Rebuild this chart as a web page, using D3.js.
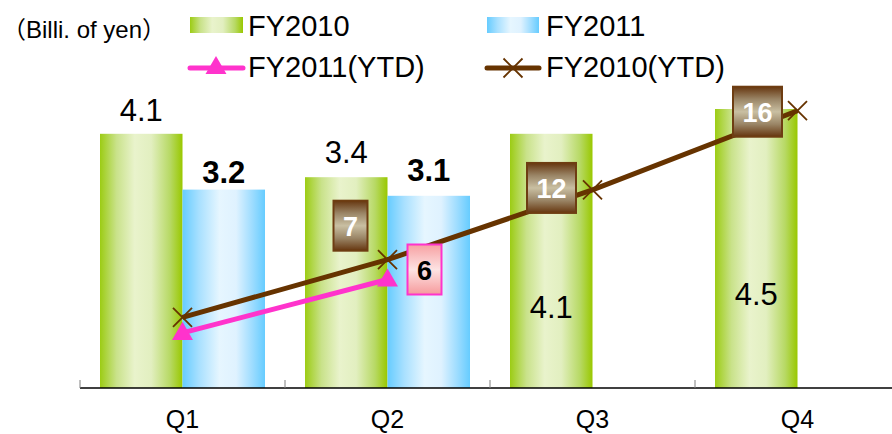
<!DOCTYPE html>
<html>
<head>
<meta charset="utf-8">
<script src="https://cdn.jsdelivr.net/npm/d3@7/dist/d3.min.js"></script>
<style>
  html, body { margin: 0; padding: 0; background: #fff; }
  svg { display: block; font-family: "Liberation Sans", Arial, "Noto Sans CJK JP", sans-serif; }
</style>
</head>
<body>
<svg id="chart" width="892" height="434"></svg>
<script>
// Quarterly amounts (billions of yen) and year-to-date totals
const categories = ["Q1", "Q2", "Q3", "Q4"];
const fy2010 = [4.1, 3.4, 4.1, 4.5];
const fy2011 = [3.2, 3.1, null, null];
const fy2010Ytd = [4.1, 7.45, 11.5, 16.1];
const fy2011Ytd = [3.2, 6.3, null, null];
const seriesNames = ["FY2010", "FY2011", "FY2011(YTD)", "FY2010(YTD)"];

// label placement (vertical offset of FY2010 value labels, box offsets of YTD labels)
const fy2010LabelDy = [-13, -14, 184, 196];
const fy2011LabelDy = [-7, -15, 0, 0];
const fy2010BoxOffset = [null, [-37, -34], [-41, -2], [-40, 1]];
const fy2011BoxOffset = [null, [37, -10], null, null];

const svg = d3.select("#chart");
const defs = svg.append("defs");

function hGrad(id, stops) {
  const g = defs.append("linearGradient").attr("id", id)
    .attr("x1", "0%").attr("x2", "100%").attr("y1", "0%").attr("y2", "0%");
  stops.forEach(([o, c]) => g.append("stop").attr("offset", o).attr("stop-color", c));
}
function vGrad(id, stops) {
  const g = defs.append("linearGradient").attr("id", id)
    .attr("x1", "0%").attr("x2", "0%").attr("y1", "0%").attr("y2", "100%");
  stops.forEach(([o, c]) => g.append("stop").attr("offset", o).attr("stop-color", c));
}
hGrad("gGreen", [["0%", "#9ccc14"], ["20%", "#c9e28a"], ["42%", "#e9f3cc"], ["62%", "#e2efc0"], ["85%", "#b7d964"], ["100%", "#99c800"]]);
hGrad("gBlue", [["0%", "#66ccff"], ["20%", "#a8e0ff"], ["45%", "#e6f6ff"], ["65%", "#dff2ff"], ["85%", "#9cdcff"], ["100%", "#66ccff"]]);
vGrad("gBrown", [["0%", "#66360f"], ["25%", "#9a8566"], ["50%", "#c9bfa2"], ["75%", "#9a8566"], ["100%", "#66360f"]]);
vGrad("gPink", [["0%", "#f7a0a2"], ["50%", "#fde3e3"], ["100%", "#f69a9c"]]);

const baseY = 388, topY = 78;
const x = d3.scaleBand().domain(categories).range([80, 900]);
const xs = d3.scaleBand().domain(["FY2010", "FY2011"]).range([20, x.bandwidth() - 20]);
const yBar = d3.scaleLinear().domain([0, 5]).range([baseY, topY]);
const yYtd = d3.scaleLinear().domain([0, 18]).range([baseY, topY]);
const cx = c => x(c) + x.bandwidth() / 2;

// bars
const gBars = svg.append("g");
categories.forEach((c, i) => {
  gBars.append("rect")
    .attr("x", x(c) + xs("FY2010")).attr("width", xs.bandwidth())
    .attr("y", yBar(fy2010[i])).attr("height", baseY - yBar(fy2010[i]))
    .attr("fill", "url(#gGreen)");
  if (fy2011[i] != null) {
    gBars.append("rect")
      .attr("x", x(c) + xs("FY2011")).attr("width", xs.bandwidth())
      .attr("y", yBar(fy2011[i])).attr("height", baseY - yBar(fy2011[i]))
      .attr("fill", "url(#gBlue)");
  }
});

// axis
const axis = svg.append("g").attr("transform", `translate(0,${baseY})`)
  .call(d3.axisBottom(x).tickSize(0).tickPadding(22));
axis.select(".domain").attr("stroke", "#000").attr("stroke-width", 1.6).attr("d", "M80,0H892");
axis.selectAll("text").attr("font-size", 25).attr("fill", "#000")
  .attr("font-family", "'Liberation Sans', Arial, sans-serif");
// separators between quarters
svg.append("g").selectAll("line")
  .data(categories.map(c => x(c)))
  .join("line")
  .attr("x1", d => d).attr("x2", d => d)
  .attr("y1", baseY - 8).attr("y2", baseY)
  .attr("stroke", "#808080").attr("stroke-width", 1);

// value labels on bars
const gLab = svg.append("g").attr("text-anchor", "middle").attr("fill", "#000");
categories.forEach((c, i) => {
  gLab.append("text")
    .attr("x", x(c) + xs("FY2010") + xs.bandwidth() / 2)
    .attr("y", yBar(fy2010[i]) + fy2010LabelDy[i])
    .attr("font-size", 31)
    .text(d3.format(".1f")(fy2010[i]));
  if (fy2011[i] != null) {
    gLab.append("text")
      .attr("x", x(c) + xs("FY2011") + xs.bandwidth() / 2)
      .attr("y", yBar(fy2011[i]) + fy2011LabelDy[i])
      .attr("font-size", 31).attr("font-weight", "bold")
      .text(d3.format(".1f")(fy2011[i]));
  }
});

// YTD lines
const line = d3.line().defined(d => d.v != null).x(d => cx(d.c)).y(d => yYtd(d.v));
const pts2011 = categories.map((c, i) => ({ c, v: fy2011Ytd[i] }));
const pts2010 = categories.map((c, i) => ({ c, v: fy2010Ytd[i] }));

svg.append("path").datum(pts2011).attr("d", line)
  .attr("fill", "none").attr("stroke", "#ff33cc").attr("stroke-width", 5);
const tri = d3.symbol().type(d3.symbolTriangle).size(190);
svg.append("g").selectAll("path").data(pts2011.filter(d => d.v != null)).join("path")
  .attr("transform", d => `translate(${cx(d.c)},${yYtd(d.v) + 1})`)
  .attr("d", tri).attr("fill", "#ff33cc");

svg.append("path").datum(pts2010).attr("d", line)
  .attr("fill", "none").attr("stroke", "#663300").attr("stroke-width", 5);
const cross = (g, px, py, r) => {
  g.append("path")
    .attr("d", `M${px - r},${py - r}L${px + r},${py + r}M${px - r},${py + r}L${px + r},${py - r}`)
    .attr("stroke", "#663300").attr("stroke-width", 1.8).attr("fill", "none");
};
const gCross = svg.append("g");
pts2010.forEach(d => cross(gCross, cx(d.c), yYtd(d.v), 9.5));

// YTD value boxes
function box(px, py, value, fill, stroke, textColor) {
  const txt = d3.format(".0f")(value);
  const w = 19 + 15 * txt.length, h = 50;
  const g = svg.append("g").attr("transform", `translate(${px},${py})`);
  g.append("rect").attr("x", -w / 2).attr("y", -h / 2).attr("width", w).attr("height", h)
    .attr("fill", fill).attr("stroke", stroke).attr("stroke-width", 2);
  g.append("text").attr("text-anchor", "middle").attr("y", 10)
    .attr("font-size", 27).attr("font-weight", "bold").attr("fill", textColor)
    .text(txt);
}
categories.forEach((c, i) => {
  const o = fy2010BoxOffset[i];
  if (o) box(cx(c) + o[0], yYtd(fy2010Ytd[i]) + o[1], fy2010Ytd[i], "url(#gBrown)", "#6e3d12", "#fff");
  const p = fy2011BoxOffset[i];
  if (p) box(cx(c) + p[0], yYtd(fy2011Ytd[i]) + p[1], fy2011Ytd[i], "url(#gPink)", "#ff33cc", "#000");
});

// unit and legend
svg.append("text").attr("x", 2).attr("y", 38).attr("font-size", 24).attr("fill", "#000")
  .text("（Billi. of yen）");

const leg = svg.append("g").attr("font-size", 29).attr("fill", "#000");
// FY2010 swatch
leg.append("rect").attr("x", 190).attr("y", 17).attr("width", 53).attr("height", 16).attr("fill", "url(#gGreen)");
leg.append("text").attr("x", 248).attr("y", 36).text(seriesNames[0]);
// FY2011 swatch
leg.append("rect").attr("x", 487).attr("y", 17).attr("width", 52).attr("height", 16).attr("fill", "url(#gBlue)");
leg.append("text").attr("x", 546).attr("y", 36).text(seriesNames[1]);
// FY2011(YTD)
leg.append("line").attr("x1", 190).attr("x2", 243).attr("y1", 68).attr("y2", 68)
  .attr("stroke", "#ff33cc").attr("stroke-width", 5).attr("stroke-linecap", "round");
leg.append("path").attr("transform", "translate(216,68)").attr("d", tri).attr("fill", "#ff33cc");
leg.append("text").attr("x", 248).attr("y", 77).text(seriesNames[2]);
// FY2010(YTD)
leg.append("line").attr("x1", 487).attr("x2", 539).attr("y1", 68).attr("y2", 68)
  .attr("stroke", "#663300").attr("stroke-width", 5).attr("stroke-linecap", "round");
cross(leg, 513, 68, 9.5);
leg.append("text").attr("x", 546).attr("y", 77).text(seriesNames[3]);
</script>
</body>
</html>
